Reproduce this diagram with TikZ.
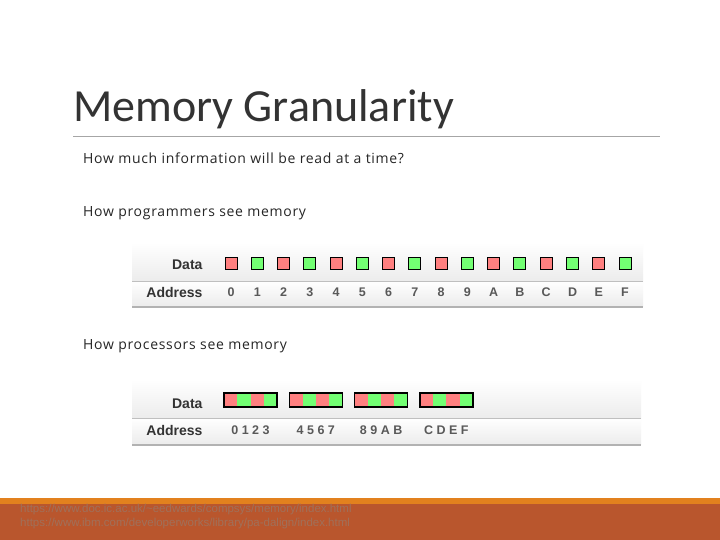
\documentclass[tikz,border=0pt]{standalone}
\usepackage{fontspec}
\setmainfont{Carlito}
\newfontfamily\arialf{Liberation Sans}
\newfontfamily\bodyf[LetterSpace=5]{Open Sans}
\definecolor{rust}{HTML}{B9562D}
\definecolor{stripe}{HTML}{E2811E}
\definecolor{foot}{HTML}{A0705A}
\begin{document}
\begin{tikzpicture}[x=1pt,y=-1pt,
  panel/.style={draw=none,top color=white,bottom color=gray!15},
  lbl/.style={font=\arialf\bfseries\fontsize{14}{14}\selectfont,anchor=east,text=black!80},
  addr/.style={font=\arialf\bfseries\fontsize{12.5}{12.5}\selectfont,text=black!65},
  body/.style={font=\bodyf\fontsize{14}{14}\selectfont,anchor=base west,text=black!85}]
\useasboundingbox (0,0) rectangle (720,540);
\fill[white] (0,0) rectangle (720,540);
\node[font=\fontsize{46}{46}\selectfont,anchor=base west,text=black!80,inner sep=0pt] (title) at (73,122) {Memory Granularity};
\draw[gray!70,line width=0.8pt] (73,136) coordinate (l1) -- (660,136) coordinate (l2);
\node[body,inner sep=0pt] (q) at (83,164) {How much information will be read at a time?};
\node[body,inner sep=0pt] (p1) at (83,216) {How programmers see memory};
\node[body,inner sep=0pt] (p2) at (83,349) {How processors see memory};
% panel 1
\fill[panel] (132,243) rectangle (643,281);
\fill[panel] (132,281) rectangle (643,306);
\draw[gray!50] (132,281) -- (643,281);
\draw[gray!60,line width=1.2pt] (132,307) -- (643,307);
\node[lbl] (d1) at (206,265) {Data};
\node[lbl] (a1) at (206,292) {Address};
\foreach \i/\t in {0/0,1/1,2/2,3/3,4/4,5/5,6/6,7/7,8/8,9/9,10/A,11/B,12/C,13/D,14/E,15/F}{
  \pgfmathsetmacro{\cx}{231+26.27*\i}
  \pgfmathparse{mod(\i,2)==0?1:0}
  \ifnum\pgfmathresult=1 \def\cc{red!50}\else\def\cc{green!55}\fi
  \node[draw=black,line width=1pt,fill=\cc,minimum size=12pt,inner sep=0pt] (s\i) at (\cx,263) {};
  \node[addr] (n\i) at (\cx,292) {\t};
}
% panel 2
\fill[panel] (132,380) rectangle (641,418);
\fill[panel] (132,418) rectangle (641,444);
\draw[gray!50] (132,418) -- (641,418);
\draw[gray!60,line width=1.2pt] (132,445) -- (641,445);
\node[lbl] (d2) at (206,404) {Data};
\node[lbl] (a2) at (206,430) {Address};
\foreach \g/\t in {0/0 1 2 3,1/4 5 6 7,2/8 9 A B,3/C D E F}{
  \pgfmathsetmacro{\gx}{224+65.3*\g}
  \foreach \k in {0,1,2,3}{
    \pgfmathparse{mod(\k,2)==0?1:0}
    \ifnum\pgfmathresult=1 \def\cc{red!50}\else\def\cc{green!55}\fi
    \fill[\cc] (\gx+13.25*\k,393) rectangle ++(13.25,14);
  }
  \draw[black,line width=1.2pt] (\gx,393) rectangle ++(53,14);
  \node[addr] (g\g) at (\gx+26.5,430) {\t};
}
% footer
\fill[stripe] (0,498) rectangle (720,504);
\fill[rust] (0,504) rectangle (720,540);
\node[font=\arialf\fontsize{11.5}{11.5}\selectfont,anchor=base west,text=foot,inner sep=0pt] (f1) at (20,512) {https://www.doc.ic.ac.uk/\textasciitilde eedwards/compsys/memory/index.html};
\node[font=\arialf\fontsize{11.5}{11.5}\selectfont,anchor=base west,text=foot,inner sep=0pt] (f2) at (20,526) {https://www.ibm.com/developerworks/library/pa-dalign/index.html};
\end{tikzpicture}
\end{document}
